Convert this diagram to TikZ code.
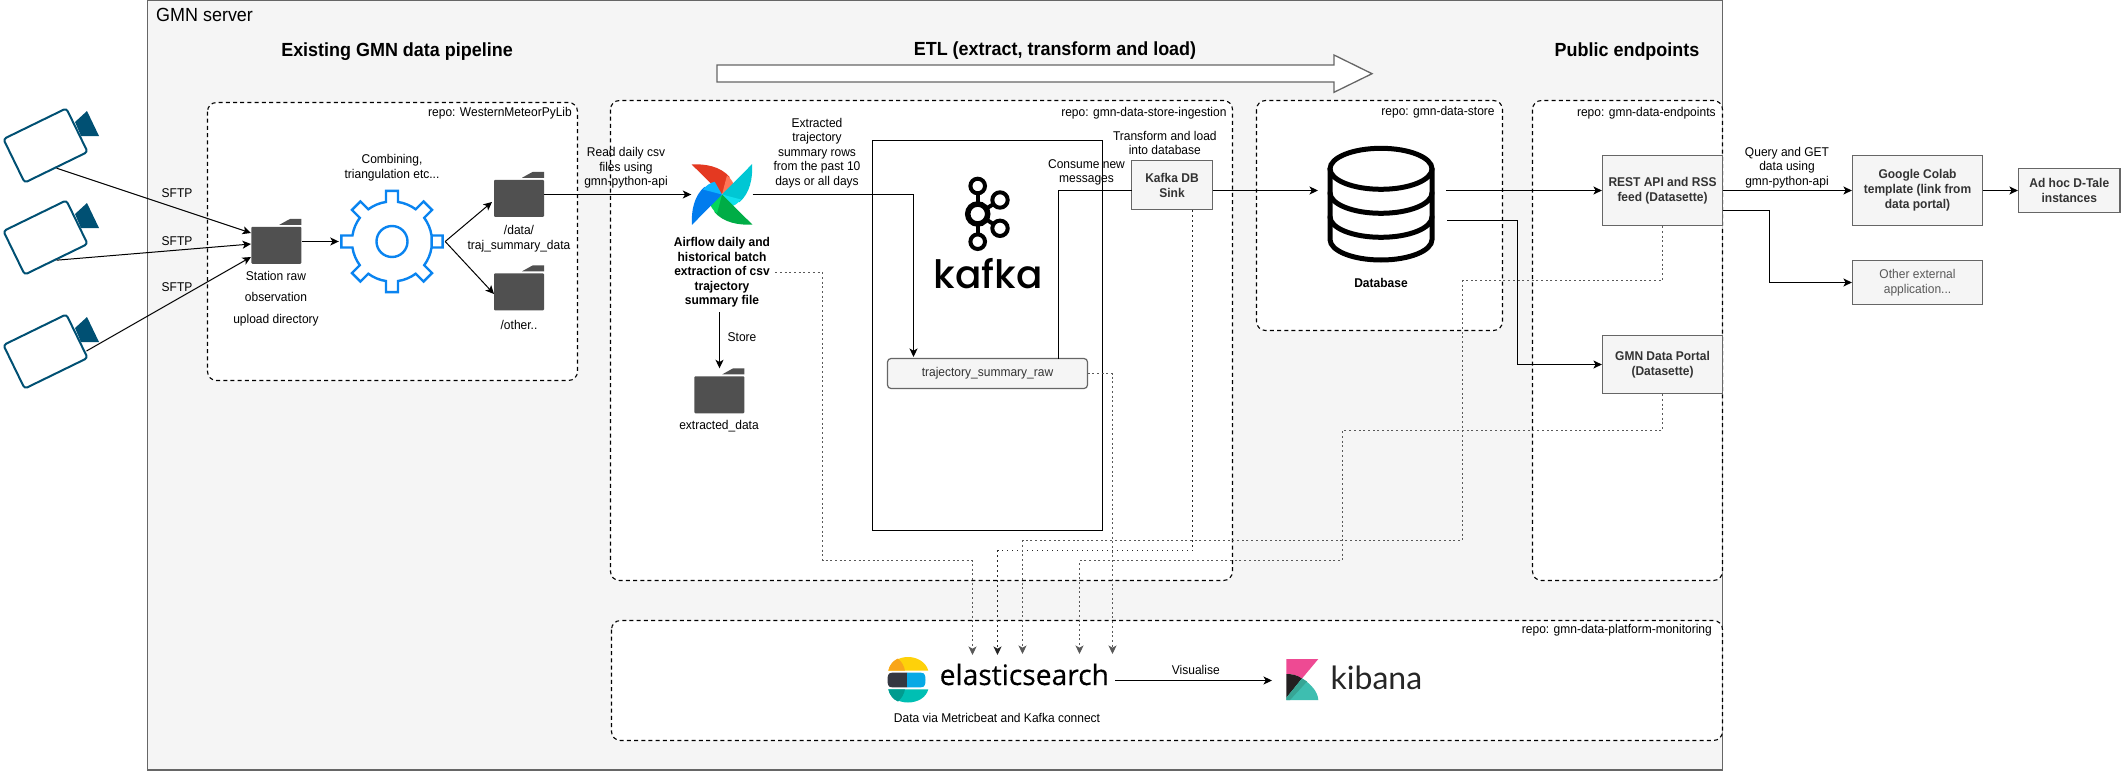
\documentclass[tikz,border=0pt]{standalone}
\usepackage{fontspec}
\setmainfont[FakeStretch=0.945]{Liberation Sans}
\newfontfamily\kafkafont{Poppins Medium}
\newfontfamily\elasticfont[FakeBold=0.4]{Open Sans}
\newfontfamily\kibanafont{Lato}
\usetikzlibrary{arrows.meta, calc}

\definecolor{serverfill}{HTML}{F5F5F5}
\definecolor{serverline}{HTML}{666666}
\definecolor{folderfill}{HTML}{505050}
\definecolor{camblue}{HTML}{005073}
\definecolor{gearblue}{HTML}{0A84F0}
\definecolor{esyellow}{HTML}{FED10A}
\definecolor{esorange}{HTML}{F9A51A}
\definecolor{esdark}{HTML}{343741}
\definecolor{esblue}{HTML}{07A9E5}
\definecolor{esteal}{HTML}{00BFB3}
\definecolor{esdeep}{HTML}{019B8F}
\definecolor{kbpink}{HTML}{EE4A93}
\definecolor{kbblack}{HTML}{231F20}
\definecolor{kbteal}{HTML}{3EBEB0}
\definecolor{kbdeep}{HTML}{37A595}

\tikzset{
  >={Stealth[length=8.5pt,width=8pt,inset=2.2pt]},
  txt/.style={font=\fontsize{12.7}{14.6}\selectfont, align=center, inner sep=0pt},
  boldtxt/.style={txt, font=\fontsize{12.7}{14.4}\selectfont\bfseries},
  heading/.style={align=center, inner sep=0pt, font=\fontsize{19}{22}\selectfont\bfseries},
  repobox/.style={draw=black, fill=white, line width=1.1pt, dash pattern=on 4pt off 3.2pt, rounded corners=9pt},
  repolabel/.style={txt, anchor=east},
  greybox/.style={draw=serverline, fill=serverfill, line width=1.2pt, inner sep=0pt, align=center, text=black!80,
    font=\fontsize{12.7}{15}\selectfont\bfseries},
  camera/.style={draw=camblue, fill=white, line width=2pt, rounded corners=3pt, minimum width=70pt, minimum height=48.5pt, rotate=26},
  folder/.style={inner sep=0pt, minimum width=50pt, minimum height=45pt},
  link/.style={line width=1.2pt, draw=black},
  monitor/.style={line width=1pt, draw=black!65, dash pattern=on 2pt off 2.7pt},
  monitordot/.style={line width=1.1pt, draw=black!85, dash pattern=on 1.4pt off 3.6pt},
}

\begin{document}
\begin{tikzpicture}[x=1pt, y=-1pt]
\useasboundingbox (0,0) rectangle (2121,771);
% Server background
\draw[draw=serverline, fill=serverfill, line width=1.2pt] (147.5,0.5) rectangle (1722.5,770);
\node[inner sep=0pt, anchor=west, font=\fontsize{19}{22}\selectfont] (servertitle) at (156,15) {GMN server};
% Section headings
\node[heading] (headpipe) at (397,52) {Existing GMN data pipeline};
\node[heading] (headetl) at (1055,51) {ETL (extract, transform and load)};
\node[heading] (headpub) at (1627,52) {Public endpoints};
\draw[draw=serverline, fill=white, line width=1.3pt] (717,65) -- (1334,65) -- (1334,55) -- (1372,73.7) -- (1334,92.3) -- (1334,82) -- (717,82) -- cycle;
% Repository boxes
\draw[repobox] (207.5,102.5) rectangle (577.5,380.5);
\draw[repobox] (610.5,100.5) rectangle (1232.5,580.5);
\draw[repobox] (1256.5,100.5) rectangle (1502.5,330.5);
\draw[repobox] (1532.5,100.5) rectangle (1722.5,580.5);
\draw[repobox] (611.5,620.5) rectangle (1722.5,740.5);
\node[repolabel] (repowmpl) at (572,113.2) {repo: WesternMeteorPyLib};
\node[repolabel] (repoingest) at (1226.7,113.2) {repo: gmn-data-store-ingestion};
\node[repolabel] (repostore) at (1494.8,112) {repo: gmn-data-store};
\node[repolabel] (repoend) at (1715.8,113.5) {repo: gmn-data-endpoints};
\node[repolabel] (repomon) at (1712,630.5) {repo: gmn-data-platform-monitoring};
% Cameras
\foreach \camname/\camy in {cam1/0, cam2/92, cam3/206} {
  \fill[camblue] (87,111+\camy) -- (99,136+\camy) -- (81,136+\camy) -- (75,122+\camy) -- cycle;
  \node[camera] (\camname) at (45.5,145.5+\camy) {};
}
\coordinate (cam3out) at (86.5,351);
% Folders
\node[folder] (station) at (276.6,241.5) {};
\node[folder] (trajdata) at (519.2,194.5) {};
\node[folder] (otherdata) at (519.2,288) {};
\node[folder] (extracted) at (719.5,391) {};
\foreach \foldername in {station, trajdata, otherdata, extracted} {
  \begin{scope}[shift={(\foldername.north west)}]
    \fill[folderfill, rounded corners=1pt] (0,8) -- (50,8) -- (50,45) -- (0,45) -- cycle;
    \fill[folderfill] (28,6) -- (37,1) -- (39,0) -- (50,0) -- (50,6) -- cycle;
  \end{scope}
}
\coordinate (stationin1) at (251,233);
\coordinate (stationin2) at (251,244);
\coordinate (stationin3) at (251,257);
\coordinate (trajin) at (492,202);
\coordinate (otherin) at (494,294);
\node[txt, font=\fontsize{12.7}{21.4}\selectfont] (stationtxt) at (276,298.5) {Station raw\\observation\\upload directory};
\node[txt] (trajtxt) at (519,238.5) {/data/\\traj\_summary\_data};
\node[txt] (othertxt) at (519,325) {/other..};
\node[txt] (extractedtxt) at (719,426) {extracted\_data};
\node[txt] (sftp1) at (177,193) {SFTP};
\node[txt] (sftp2) at (177,241) {SFTP};
\node[txt] (sftp3) at (177,287) {SFTP};
% Gear
\node[circle, inner sep=0pt, minimum size=106pt] (gear) at (392,241.5) {};
\begin{scope}[shift={(gear.center)}, line width=2.4pt]
  \draw[gearblue] (8.6:40) foreach \gearang in {0,45,...,315} {
    -- (\gearang-8.6:40) -- (\gearang-6.75:51) -- (\gearang+6.75:51) -- (\gearang+8.6:40)
    arc[start angle=\gearang+8.6, end angle=\gearang+36.4, radius=40]
  } -- cycle;
  \draw[gearblue] (0,0) circle [radius=15.5];
\end{scope}
\node[txt] (geartxt) at (392,168) {Combining,\\triangulation etc...};
% Airflow logo
\node[inner sep=0pt, minimum width=61pt, minimum height=60pt] (airflow) at (722,194.5) {};
\foreach \rotang/\darkcol/\lightcol in {0/E43921/FF7557, -90/00C7D4/11E1EE, -180/00AD46/04D659, -270/017CEE/0CB6FF} {
  \begin{scope}[shift={(airflow.center)}, rotate=\rotang]
    \definecolor{bladedark}{HTML}{\darkcol}
    \definecolor{bladelight}{HTML}{\lightcol}
    \fill[bladedark] (0,0) -- (-30.3,-30) .. controls (-17,-31) and (-1,-28) .. (7.7,-17.3) -- cycle;
    \fill[bladelight] (0,0) -- (5,-19) .. controls (9,-16) and (12,-11) .. (12.7,-7.3) -- cycle;
  \end{scope}
}
\node[boldtxt] (airflowtxt) at (722,272.5) {Airflow daily and\\historical batch\\extraction of csv\\trajectory\\summary file};
\node[txt] (storetxt) at (742,337) {Store};
\node[txt] (readtxt) at (626,168) {Read daily csv\\files using\\gmn-python-api};
\node[txt] (extracttxt) at (817,153) {Extracted\\trajectory\\summary rows\\from the past 10\\days or all days};
% Kafka
\node[draw=black, fill=white, line width=1.4pt, inner sep=0pt, minimum width=230pt, minimum height=390pt] (kafkabox) at (987.5,335.5) {};
\begin{scope}[draw=black]
  \draw[line width=4pt] (977.7,186) -- (977.7,241.7);
  \draw[line width=4pt] (1000,200) -- (977.7,214) -- (1000,228.3);
  \draw[line width=4pt, fill=white] (977.7,186) circle [radius=7.3];
  \draw[line width=4pt, fill=white] (977.7,241.7) circle [radius=7.3];
  \draw[line width=4pt, fill=white] (1000,200) circle [radius=7.7];
  \draw[line width=4pt, fill=white] (1000,228.3) circle [radius=7.7];
  \draw[line width=5.5pt, fill=white] (977.7,214) circle [radius=10];
\end{scope}
\node[anchor=base, inner sep=0pt, font=\kafkafont\fontsize{39}{39}\selectfont] (kafkatxt) at (988,288) {kafka};
\node[draw=serverline, fill=serverfill, line width=1.2pt, rounded corners=3.5pt, inner sep=0pt, minimum width=200pt, minimum height=30pt, text=black!80,
  font=\fontsize{12.7}{15}\selectfont] (topic) at (987.5,373.5) {trajectory\_summary\_raw};
\node[greybox, minimum width=81pt, minimum height=49pt] (sink) at (1172,185) {Kafka DB\\Sink};
\node[txt] (consumetxt) at (1086.5,172.5) {Consume new\\messages};
\node[txt] (transformtxt) at (1164.8,143) {Transform and load\\into database};
\coordinate (topicout) at (1058.5,358.5);
\coordinate (sinkin) at (1131.5,190.5);
\coordinate (topicin) at (913.5,357);
% Database
\node[inner sep=0pt, minimum width=107pt, minimum height=117pt] (db) at (1381,204) {};
\begin{scope}[line width=5pt, shift={(db.center)}, line cap=round]
  \draw (0,-35.2) ellipse [x radius=51, y radius=20.5];
  \draw (-51,-35.2) -- (-51,35.5) arc[start angle=180, end angle=0, x radius=51, y radius=20.5] -- (51,-35.2);
  \draw (-51,-11.2) arc[start angle=180, end angle=0, x radius=51, y radius=20.5];
  \draw (-51,12.8) arc[start angle=180, end angle=0, x radius=51, y radius=20.5];
\end{scope}
\node[boldtxt] (dbtxt) at (1381,283) {Database};
\coordinate (dbin) at (1318,190.5);
\coordinate (dbout1) at (1446,190.5);
\coordinate (dbout2) at (1447,220.5);
% Endpoint boxes
\node[greybox, minimum width=120pt, minimum height=70pt] (rest) at (1662.5,190.5) {REST API and RSS\\feed (Datasette)};
\node[greybox, minimum width=120pt, minimum height=58pt] (portal) at (1662.5,364.5) {GMN Data Portal\\(Datasette)};
\node[greybox, minimum width=130pt, minimum height=70pt] (colab) at (1917.5,190.5) {Google Colab\\template (link from\\data portal)};
\node[greybox, minimum width=101.5pt, minimum height=44pt] (adhoc) at (2069.25,190.5) {Ad hoc D-Tale\\instances};
\node[greybox, minimum width=130pt, minimum height=44pt, font=\fontsize{12.7}{15}\selectfont, text=black!65] (other) at (1917.5,282.5) {Other external\\application...};
\node[txt] (querytxt) at (1787,167.5) {Query and GET\\data using\\gmn-python-api};
\coordinate (restout) at (1722.5,210.5);
% Elasticsearch logo
\begin{scope}
  \fill[esyellow] (888.3,670.7) .. controls (890,662) and (899,657) .. (908,657) .. controls (917,657) and (926,662) .. (928.3,670.7) -- cycle;
  \fill[esorange] (888.3,670.7) .. controls (889.5,665) and (893,660.5) .. (898,658.5) .. controls (902,662) and (904,666) .. (905,670.7) -- cycle;
  \fill[esdark] (907,672.7) -- (892,672.7) .. controls (888,672.7) and (887.5,676) .. (887.5,680) .. controls (887.5,684) and (888,687.3) .. (892,687.3) -- (907,687.3) -- cycle;
  \fill[esblue] (907,672.7) -- (921,672.7) .. controls (925,672.7) and (925.5,676) .. (925.5,680) .. controls (925.5,684) and (925,687.3) .. (921,687.3) -- (907,687.3) -- cycle;
  \fill[esteal] (888.3,689.3) .. controls (890,698) and (899,702.5) .. (908,702.5) .. controls (917,702.5) and (926,698) .. (928.3,689.3) -- cycle;
  \fill[esdeep] (888.3,689.3) .. controls (889.5,695) and (893,699.5) .. (898,701.5) .. controls (902,698) and (904,694) .. (905,689.3) -- cycle;
\end{scope}
\node[anchor=base west, inner sep=0pt, font=\elasticfont\fontsize{28.2}{28}\selectfont] (estxt) at (939.5,685) {elasticsearch};
\node[txt] (datatxt) at (997,718) {Data via Metricbeat and Kafka connect};
\node[txt] (vistxt) at (1195.8,669.7) {Visualise};
% Kibana logo
\fill[kbpink] (1286.3,659) -- (1318.3,659) -- (1302,678.5) .. controls (1297,675) and (1292,674) .. (1286.3,674) -- cycle;
\fill[kbblack] (1286.3,674) .. controls (1292,674) and (1297,675) .. (1302,678.5) -- (1286.3,698) -- cycle;
\fill[kbteal] (1286.3,700) -- (1318.3,700) .. controls (1318,692) and (1311,684) .. (1302,678.5) -- (1286.3,698) -- cycle;
\fill[kbdeep] (1302,678.5) -- (1307,681.5) -- (1290,700) -- (1286.3,700) -- (1286.3,698) -- cycle;
\node[anchor=base west, inner sep=0pt, font=\kibanafont\fontsize{32}{32}\selectfont, text=black!85] (kibanatxt) at (1330.5,689.3) {kibana};
\coordinate (kibanain) at (1272,680.5);
% Monitoring arrow ends
\coordinate (esin1) at (972.5,655);
\coordinate (esin2) at (997.5,655);
\coordinate (esin3) at (1022.5,654);
\coordinate (esin4) at (1079.5,654);
\coordinate (esin5) at (1112.5,654);
\coordinate (topicside) at (1087.5,373.5);
% Camera uploads
\draw[link, ->, line width=1pt] (cam1.south) -- (stationin1);
\draw[link, ->, line width=1pt] (cam2.south) -- (stationin2);
\draw[link, ->, line width=1pt] (cam3out) -- (stationin3);
\draw[link, ->] (station.east) -- (gear.west);
\draw[link, ->, line width=1pt] (gear.east) -- (trajin);
\draw[link, ->, line width=1pt] (gear.east) -- (otherin);
% Data flow
\draw[link, ->] (trajdata.east) -- (airflow.west);
\draw[link, ->] (airflow.east) -| (topicin);
\draw[link, ->] (extracted.north |- airflowtxt.south) ++(0,5) -- (extracted.north);
\draw[link] (topicout) |- (sinkin);
\draw[link, ->] (sink.east |- sinkin) -- (dbin);
\draw[link, ->] (dbout1) -- (rest.west);
\draw[link, ->] (dbout2) -| (1517.5,300) |- (portal.west);
\draw[link, ->] (rest.east) -- (colab.west);
\draw[link, ->] (colab.east) -- (adhoc.west |- colab.east);
\draw[link, ->] (restout) -| (1769.5,250) |- (other.west);
\draw[link, ->] (estxt.east |- kibanain) ++(6,0) -- (kibanain);
% Monitoring connections
\draw[monitor, ->] ($(airflowtxt.east)+(5,0)$) -- (822.5,272.5) -- (822.5,560.5) -- (972.5,560.5) -- (esin1);
\draw[monitordot, ->] (sink.south -| 1192.5,0) -- (1192.5,550.5) -- (997.5,550.5) -- (esin2);
\draw[monitor, ->] (rest.south) -- (1662.5,280.5) -- (1462.5,280.5) -- (1462.5,540.5) -- (1022.5,540.5) -- (esin3);
\draw[monitor, ->] (portal.south) -- (1662.5,430.5) -- (1342.5,430.5) -- (1342.5,560.5) -- (1079.5,560.5) -- (esin4);
\draw[monitor, ->] (topicside) -- (1112.5,373.5) -- (esin5);
\end{tikzpicture}
\end{document}
